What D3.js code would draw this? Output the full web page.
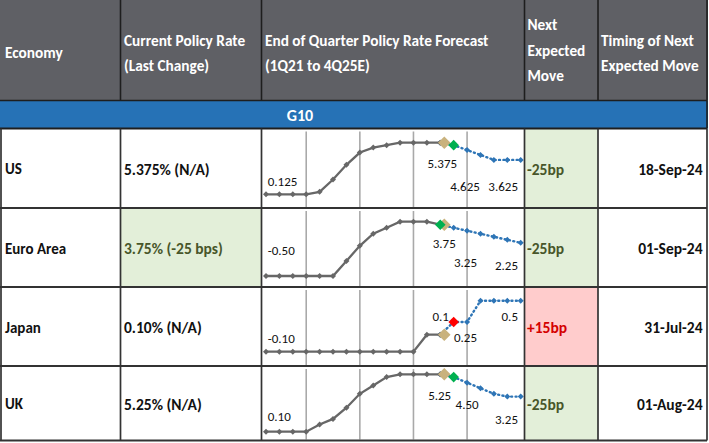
<!DOCTYPE html>
<html>
<head>
<meta charset="utf-8">
<script src="https://cdn.jsdelivr.net/npm/d3@7/dist/d3.min.js"></script>
<style>
  html, body { margin: 0; padding: 0; background: #ffffff; }
  svg { display: block; }
  text { font-family: Carlito, Lato, "Open Sans", sans-serif; }
</style>
</head>
<body>
<svg id="chart" width="709" height="443"></svg>
<script>
// ---------------- DATA ----------------
const headerEconomy = ["Economy"];
const headerCurrent = ["Current Policy Rate", "(Last Change)"];
const headerForecast = ["End of Quarter Policy Rate Forecast", "(1Q21 to 4Q25E)"];
const headerNext = ["Next", "Expected", "Move"];
const headerTiming = ["Timing of Next", "Expected Move"];
const groupLabel = "G10";

const economies = ["US", "Euro Area", "Japan", "UK"];
const currentRate = ["5.375% (N/A)", "3.75% (-25 bps)", "0.10% (N/A)", "5.25% (N/A)"];
const currentRateChanged = [false, true, false, false];
const nextMove = ["-25bp", "-25bp", "+15bp", "-25bp"];
const nextMoveTiming = ["18-Sep-24", "01-Sep-24", "31-Jul-24", "01-Aug-24"];

const quarters = ["1Q21","2Q21","3Q21","4Q21","1Q22","2Q22","3Q22","4Q22",
                  "1Q23","2Q23","3Q23","4Q23","1Q24","2Q24","3Q24","4Q24",
                  "1Q25","2Q25","3Q25","4Q25"];
const yearEndQuarters = ["4Q21", "4Q22", "4Q23", "4Q24"];

// actual policy rates, 1Q21 .. 2Q24
const usActual    = [0.125,0.125,0.125,0.125,0.375,1.625,3.125,4.375,4.875,5.125,5.375,5.375,5.375,5.375];
const euroActual  = [-0.50,-0.50,-0.50,-0.50,-0.50,-0.50,0.75,2.00,3.00,3.50,4.00,4.00,4.00,3.75];
const japanActual = [-0.10,-0.10,-0.10,-0.10,-0.10,-0.10,-0.10,-0.10,-0.10,-0.10,-0.10,-0.10,0.10,0.10];
const ukActual    = [0.10,0.10,0.10,0.10,0.75,1.25,2.25,3.50,4.25,5.00,5.25,5.25,5.25,5.25];

// forecasts, 2Q24 .. 4Q25
const forecastQuarters = ["2Q24","3Q24","4Q24","1Q25","2Q25","3Q25","4Q25"];
const usForecast    = [5.375,5.125,4.625,4.125,3.625,3.625,3.625];
const euroForecast  = [3.75,3.50,3.25,3.00,2.75,2.50,2.25];
const japanForecast = [0.10,0.25,0.25,0.50,0.50,0.50,0.50];
const ukForecast    = [5.25,5.00,4.50,4.00,3.50,3.25,3.25];

// current rate marker (placed at today's date, ~1/3 into 3Q24) and next move marker
const todayQuarterPos = 13.3;
const currentValue = [5.375, 3.75, 0.10, 5.25];
const moveQuarter = ["3Q24", "2Q24", "3Q24", "3Q24"];
const moveValue   = [5.125, 3.75, 0.25, 5.00];
const moveKind    = ["cut", "cut", "hike", "cut"];

// data labels on sparklines: text + which point they belong to
const usLabels    = [["0.125","1Q21"],["5.375","today"],["4.625","4Q24"],["3.625","4Q25"]];
const euroLabels  = [["-0.50","1Q21"],["3.75","today"],["3.25","4Q24"],["2.25","4Q25"]];
const japanLabels = [["-0.10","1Q21"],["0.1","today"],["0.25","4Q24"],["0.5","4Q25"]];
const ukLabels    = [["0.10","1Q21"],["5.25","today"],["4.50","4Q24"],["3.25","4Q25"]];

const seriesActual = [usActual, euroActual, japanActual, ukActual];
const seriesForecast = [usForecast, euroForecast, japanForecast, ukForecast];
const seriesLabels = [usLabels, euroLabels, japanLabels, ukLabels];

// ---------------- LAYOUT / STYLE ----------------
const W = 709, H = 443;
const colX = [1, 120.5, 261.5, 524.5, 598, 707];
const headerBottom = 100.5, bandBottom = 128.5;
const rowTops = [128.5, 208, 287, 366, 440.5];
// sparkline vertical ranges relative to row top [bottom, top]
const sparkRange = [[65.8, 14.2], [68, 13.7], [64.7, 13.7], [65.7, 8.3]];
// label offsets [anchor, dx, dy] per row per label
const labelLayout = [
  [["start",1.7,-13.3],["middle",-2,20.6],["middle",-2,36.6],["end",-2.7,26.8]],
  [["start",1.7,-26],["middle",0,18.6],["middle",-1.6,31.6],["end",-2.7,22.2]],
  [["start",1.7,-13.7],["middle",-3.6,-18.5],["middle",-1.6,16],["end",-2.7,15.3]],
  [["start",1.7,-15.7],["middle",-4.6,20.7],["middle",0,22.3],["end",-2.7,23.3]]
];
const C = {
  header: "#5f6065", headerLine: "#1e1e1e", band: "#2672b6",
  rowLine: "#333333", green: "#e3efd9", greenText: "#48562a",
  pink: "#ffcccc", redText: "#d40000", grid: "#a9a9a9",
  actual: "#676767", forecast: "#2e75b6", today: "#c9b27d",
  cut: "#00b050", hike: "#ff0000", text: "#111111"
};

// ---------------- DRAW ----------------
const svg = d3.select("#chart");
svg.append("rect").attr("width", W).attr("height", H).attr("fill", "#fff");

// header
svg.append("rect").attr("x", 0).attr("y", 0).attr("width", colX[5] + 1).attr("height", headerBottom)
  .attr("fill", C.header);
svg.append("rect").attr("x", 0).attr("y", headerBottom).attr("width", colX[5] + 1)
  .attr("height", bandBottom - headerBottom).attr("fill", C.band);

const headerCols = [
  {x: 5, lines: headerEconomy, ys: [52]},
  {x: 124, lines: headerCurrent, ys: [40, 65]},
  {x: 265, lines: headerForecast, ys: [40, 65]},
  {x: 527.5, lines: headerNext, ys: [24, 50, 75]},
  {x: 601, lines: headerTiming, ys: [40, 65]}
];
headerCols.forEach(h => {
  h.lines.forEach((ln, i) => {
    svg.append("text").attr("x", h.x).attr("y", h.ys[i])
      .attr("dominant-baseline", "central")
      .attr("fill", "#fff").attr("font-weight", 700).attr("font-size", 15.3)
      .text(ln);
  });
});
svg.append("text").attr("x", 300).attr("y", 115).attr("text-anchor", "middle")
  .attr("dominant-baseline", "central").attr("fill", "#fff")
  .attr("font-weight", 700).attr("font-size", 16).text(groupLabel);

// cell backgrounds
economies.forEach((e, r) => {
  const y0 = rowTops[r], y1 = rowTops[r + 1];
  if (currentRateChanged[r]) {
    svg.append("rect").attr("x", colX[1]).attr("y", y0).attr("width", colX[2] - colX[1])
      .attr("height", y1 - y0).attr("fill", C.green);
  }
  svg.append("rect").attr("x", colX[3]).attr("y", y0).attr("width", colX[4] - colX[3])
    .attr("height", y1 - y0).attr("fill", moveKind[r] === "hike" ? C.pink : C.green);
});

// x scale over quarters
const x = d3.scaleLinear().domain([0, quarters.length - 1]).range([266, 520.7]);
const qi = q => quarters.indexOf(q);
const diamond = r => `M0,${-r}L${r},0L0,${r}L${-r},0Z`;

economies.forEach((e, r) => {
  const y0 = rowTops[r], y1 = rowTops[r + 1];
  const mid = (y0 + y1) / 2 + 1;
  const g = svg.append("g");

  // text cells
  g.append("text").attr("x", 5).attr("y", mid).attr("dominant-baseline", "central")
    .attr("font-weight", 700).attr("font-size", 15).attr("fill", C.text).text(e);
  g.append("text").attr("x", 124).attr("y", mid).attr("dominant-baseline", "central")
    .attr("font-weight", 600).attr("font-size", 15.5)
    .attr("fill", currentRateChanged[r] ? C.greenText : C.text).text(currentRate[r]);
  g.append("text").attr("x", 527).attr("y", mid).attr("dominant-baseline", "central")
    .attr("font-weight", 600).attr("font-size", 15.5)
    .attr("fill", moveKind[r] === "hike" ? C.redText : C.greenText).text(nextMove[r]);
  g.append("text").attr("x", 702.5).attr("y", mid).attr("dominant-baseline", "central")
    .attr("text-anchor", "end").attr("font-weight", 600).attr("font-size", 15.5)
    .attr("fill", C.text).text(nextMoveTiming[r]);

  // sparkline
  const actual = seriesActual[r], fc = seriesForecast[r];
  const all = actual.concat(fc, [currentValue[r], moveValue[r]]);
  const y = d3.scaleLinear().domain(d3.extent(all))
    .range([y0 + sparkRange[r][0], y0 + sparkRange[r][1]]);

  g.selectAll(".grid").data(yearEndQuarters).join("line")
    .attr("x1", d => x(qi(d))).attr("x2", d => x(qi(d)))
    .attr("y1", y0 + 3).attr("y2", y1 - 1)
    .attr("stroke", C.grid).attr("stroke-width", 1.6);

  const actPts = actual.map((v, i) => [x(i), y(v)]);
  const fcStart = qi(forecastQuarters[0]);
  const fcPts = fc.map((v, i) => [x(fcStart + i), y(v)]);
  const line = d3.line();

  g.append("path").attr("d", line(fcPts)).attr("fill", "none")
    .attr("stroke", C.forecast).attr("stroke-width", 2.4)
    .attr("stroke-dasharray", "1,3.4").attr("stroke-linecap", "round");
  g.selectAll(".fm").data(fcPts).join("path")
    .attr("transform", d => `translate(${d[0]},${d[1]})`)
    .attr("d", diamond(3)).attr("fill", C.forecast);

  g.append("path").attr("d", line(actPts)).attr("fill", "none")
    .attr("stroke", C.actual).attr("stroke-width", 2.3);
  g.selectAll(".am").data(actPts).join("path")
    .attr("transform", d => `translate(${d[0]},${d[1]})`)
    .attr("d", diamond(3)).attr("fill", C.actual);

  // today marker and next move marker
  g.append("path").attr("transform", `translate(${x(todayQuarterPos)},${y(currentValue[r])})`)
    .attr("d", diamond(6.3)).attr("fill", C.today);
  g.append("path").attr("transform", `translate(${x(qi(moveQuarter[r]))},${y(moveValue[r])})`)
    .attr("d", diamond(5.3)).attr("fill", moveKind[r] === "hike" ? C.hike : C.cut);

  // labels
  seriesLabels[r].forEach((lb, k) => {
    const [txt, at] = lb;
    let px, py;
    if (at === "today") { px = x(todayQuarterPos); py = y(currentValue[r]); }
    else {
      const i = qi(at);
      px = x(i);
      py = i < actual.length ? y(actual[i]) : y(fc[i - fcStart]);
    }
    const [anchor, dx, dy] = labelLayout[r][k];
    g.append("text").attr("x", px + dx).attr("y", py + dy)
      .attr("text-anchor", anchor).attr("dominant-baseline", "central")
      .attr("font-size", 13).attr("fill", C.text).text(txt);
  });
});

// grid lines of the table
const hl = (y, x0, x1, color, w) => svg.append("line").attr("x1", x0).attr("x2", x1)
  .attr("y1", y).attr("y2", y).attr("stroke", color).attr("stroke-width", w);
const vl = (xx, y0, y1, color, w) => svg.append("line").attr("x1", xx).attr("x2", xx)
  .attr("y1", y0).attr("y2", y1).attr("stroke", color).attr("stroke-width", w);

colX.slice(1, 5).forEach(cx => vl(cx, 0, headerBottom, C.headerLine, 1.6));
hl(headerBottom, 0, colX[5], C.headerLine, 1.4);
hl(bandBottom, 0, colX[5], C.headerLine, 2);
rowTops.slice(1).forEach(ry => hl(ry, 0, colX[5], C.rowLine, 2));
colX.forEach(cx => vl(cx, bandBottom, rowTops[4], C.rowLine, 1.7));
vl(colX[5], 0, bandBottom, C.headerLine, 1.6);
</script>
</body>
</html>
